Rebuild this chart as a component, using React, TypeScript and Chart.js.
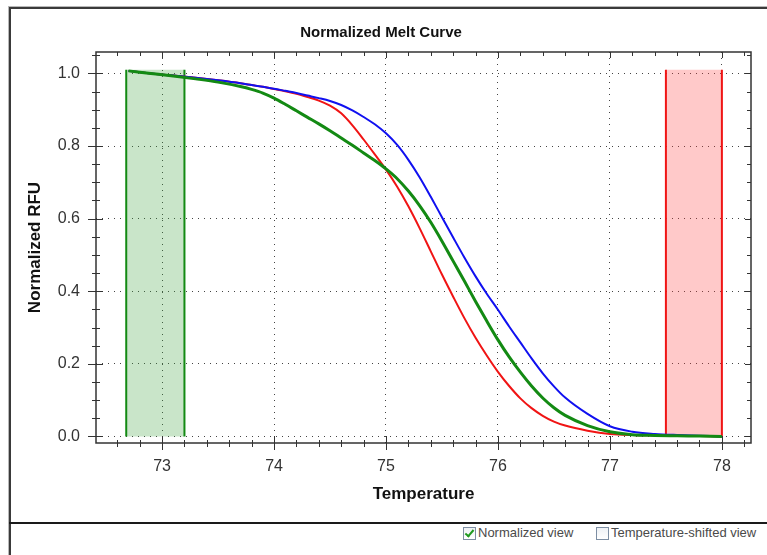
import React, { useEffect, useRef } from "react";
import { Chart, registerables } from "chart.js";

Chart.register(...registerables);

// ---- data ----
const temps = [72.7, 72.9, 73.1, 73.3, 73.5, 73.7, 73.8, 73.9, 74.0, 74.1, 74.2, 74.3, 74.4, 74.5, 74.6, 74.7, 74.8, 74.9, 75.0, 75.1, 75.2, 75.3, 75.4, 75.5, 75.6, 75.7, 75.8, 75.9, 76.0, 76.1, 76.2, 76.3, 76.4, 76.5, 76.6, 76.8, 77.0, 77.2, 77.4, 77.6, 77.8, 78.0];

const blueRFU = [1.007, 1.0, 0.994, 0.988, 0.981, 0.973, 0.968, 0.963, 0.958, 0.952, 0.946, 0.939, 0.932, 0.924, 0.913, 0.898, 0.88, 0.86, 0.835, 0.803, 0.762, 0.714, 0.66, 0.604, 0.548, 0.493, 0.441, 0.393, 0.349, 0.303, 0.259, 0.215, 0.174, 0.138, 0.107, 0.062, 0.028, 0.013, 0.007, 0.004, 0.002, 0.0];

const redRFU = [1.007, 1.0, 0.994, 0.988, 0.981, 0.973, 0.968, 0.963, 0.957, 0.951, 0.944, 0.935, 0.925, 0.911, 0.89, 0.857, 0.818, 0.777, 0.735, 0.688, 0.634, 0.574, 0.51, 0.446, 0.385, 0.326, 0.272, 0.223, 0.178, 0.139, 0.105, 0.078, 0.057, 0.041, 0.03, 0.016, 0.007, 0.004, 0.003, 0.002, 0.001, 0.0];

const greenRFU = [1.007, 1.0, 0.993, 0.985, 0.976, 0.964, 0.956, 0.946, 0.932, 0.915, 0.897, 0.879, 0.861, 0.842, 0.822, 0.802, 0.781, 0.76, 0.737, 0.71, 0.676, 0.636, 0.59, 0.538, 0.483, 0.428, 0.372, 0.318, 0.266, 0.219, 0.177, 0.139, 0.106, 0.079, 0.058, 0.03, 0.013, 0.005, 0.003, 0.002, 0.001, 0.0];

const greenBand = [72.68, 73.2];
const redBand = [77.5, 78.0];
const bandTop = 1.01;

const xRange = [72.41, 78.26];
const yRange = [-0.018, 1.059];
const xMajorStep = 1;
const xMinorStep = 0.2;
const yMajorStep = 0.2;
const yMinorStep = 0.05;

const titleText = "Normalized Melt Curve";
const xTitle = "Temperature";
const yTitle = "Normalized RFU";
const viewLabels = ["Normalized view", "Temperature-shifted view"];

const FONT = "'Liberation Sans', Arial, sans-serif";

const series = (ys: number[]) => temps.map((t, i) => ({ x: t, y: ys[i] }));

const bandFill = (b: number[]) => [
  { x: b[0], y: bandTop },
  { x: b[1], y: bandTop },
];
const bandEdges = (b: number[]) => [
  { x: b[0], y: 0 },
  { x: b[0], y: bandTop },
  { x: b[1], y: bandTop },
  { x: b[1], y: 0 },
];

const framePlugin = {
  id: "frameTicks",
  afterDraw(chart: any) {
    const { ctx, chartArea } = chart;
    const { left, right, top, bottom } = chartArea;
    const xs = chart.scales.x;
    const ys = chart.scales.y;
    ctx.save();
    ctx.strokeStyle = "#333";
    ctx.lineWidth = 1;
    const xStart = Math.ceil(xs.min / xMinorStep) * xMinorStep;
    for (let v = xStart; v <= xs.max + 1e-9; v += xMinorStep) {
      const isMajor = Math.abs(v / xMajorStep - Math.round(v / xMajorStep)) < 1e-6;
      const px = Math.round(xs.getPixelForValue(v)) + 0.5;
      ctx.beginPath();
      if (isMajor) {
        ctx.moveTo(px, bottom - 7);
        ctx.lineTo(px, bottom + 7);
        ctx.moveTo(px, top);
        ctx.lineTo(px, top + 6);
      } else {
        ctx.moveTo(px, bottom - 3);
        ctx.lineTo(px, bottom + 4);
        ctx.moveTo(px, top);
        ctx.lineTo(px, top + 4);
      }
      ctx.stroke();
    }
    const yStart = Math.ceil(ys.min / yMinorStep) * yMinorStep;
    for (let v = yStart; v <= ys.max + 1e-9; v += yMinorStep) {
      const isMajor = Math.abs(v / yMajorStep - Math.round(v / yMajorStep)) < 1e-6;
      const py = Math.round(ys.getPixelForValue(v)) + 0.5;
      ctx.beginPath();
      if (isMajor) {
        ctx.moveTo(left - 8, py);
        ctx.lineTo(left + 7, py);
        ctx.moveTo(right, py);
        ctx.lineTo(right - 6, py);
      } else {
        ctx.moveTo(left - 4, py);
        ctx.lineTo(left + 4, py);
        ctx.moveTo(right, py);
        ctx.lineTo(right - 4, py);
      }
      ctx.stroke();
    }
    ctx.lineWidth = 1.5;
    ctx.strokeStyle = "#333";
    ctx.strokeRect(left, top, right - left, bottom - top);
    ctx.restore();
  },
};

function MeltChart() {
  const ref = useRef<HTMLCanvasElement | null>(null);
  useEffect(() => {
    if (!ref.current) return;
    const chart = new Chart(ref.current, {
      type: "line",
      data: {
        datasets: [
          {
            label: "green",
            data: series(greenRFU),
            borderColor: "#138a13",
            borderWidth: 3,
            pointRadius: 0,
            cubicInterpolationMode: "monotone",
            fill: false,
            order: 0,
          },
          {
            label: "blue",
            data: series(blueRFU),
            borderColor: "#1010f0",
            borderWidth: 2,
            pointRadius: 0,
            cubicInterpolationMode: "monotone",
            fill: false,
            order: 1,
          },
          {
            label: "red",
            data: series(redRFU),
            borderColor: "#f01414",
            borderWidth: 2,
            pointRadius: 0,
            cubicInterpolationMode: "monotone",
            fill: false,
            order: 2,
          },
          {
            label: "greenBandEdges",
            data: bandEdges(greenBand),
            borderColor: "#138a13",
            borderWidth: 2,
            pointRadius: 0,
            tension: 0,
            fill: false,
            segment: {
              borderColor: (c: any) => (c.p0DataIndex === 1 ? "rgba(0,0,0,0)" : "#138a13"),
            },
            order: 3,
          },
          {
            label: "redBandEdges",
            data: bandEdges(redBand),
            borderColor: "#f01414",
            borderWidth: 2,
            pointRadius: 0,
            tension: 0,
            fill: false,
            segment: {
              borderColor: (c: any) => (c.p0DataIndex === 1 ? "rgba(0,0,0,0)" : "#f01414"),
            },
            order: 3,
          },
          {
            label: "greenBand",
            data: bandFill(greenBand),
            borderWidth: 0,
            borderColor: "rgba(0,0,0,0)",
            backgroundColor: "rgba(60,160,60,0.28)",
            pointRadius: 0,
            fill: "origin",
            order: 4,
          },
          {
            label: "redBand",
            data: bandFill(redBand),
            borderWidth: 0,
            borderColor: "rgba(0,0,0,0)",
            backgroundColor: "rgba(255,60,60,0.28)",
            pointRadius: 0,
            fill: "origin",
            order: 4,
          },
        ],
      },
      options: {
        animation: false,
        responsive: false,
        layout: { padding: { left: 0, right: 16, top: 0, bottom: 0 } },
        plugins: {
          legend: { display: false },
          tooltip: { enabled: false },
          title: {
            display: true,
            text: titleText,
            color: "#111",
            font: { family: FONT, size: 15, weight: "bold" },
            padding: { top: 14, bottom: 10 },
          },
        },
        scales: {
          x: {
            type: "linear",
            min: xRange[0],
            max: xRange[1],
            afterFit: (s: any) => {
              s.height = 78;
            },
            ticks: {
              stepSize: xMajorStep,
              includeBounds: false,
              color: "#333",
              font: { family: FONT, size: 16 },
              padding: 14,
              callback: (v: any) => String(Math.round(Number(v))),
            },
            grid: { color: "#444", lineWidth: 1, drawTicks: false },
            border: { display: false, dash: [1, 5] },
            title: {
              display: true,
              text: xTitle,
              color: "#111",
              font: { family: FONT, size: 17, weight: "bold" },
              padding: { top: 0, bottom: 16 },
            },
          },
          y: {
            type: "linear",
            min: yRange[0],
            max: yRange[1],
            afterFit: (s: any) => {
              s.width = 85;
            },
            ticks: {
              stepSize: yMajorStep,
              includeBounds: false,
              color: "#333",
              font: { family: FONT, size: 16 },
              padding: 16,
              callback: (v: any) => Number(v).toFixed(1),
            },
            grid: { color: "#444", lineWidth: 1, drawTicks: false },
            border: { display: false, dash: [1, 5] },
            title: {
              display: true,
              text: yTitle,
              color: "#111",
              font: { family: FONT, size: 17, weight: "bold" },
              padding: { top: 14, bottom: 0 },
            },
          },
        },
      },
      plugins: [framePlugin],
    } as any);
    return () => chart.destroy();
  }, []);
  return (
    <canvas
      ref={ref}
      width={756}
      height={511}
      style={{ position: "absolute", left: 11, top: 10, width: 756, height: 511 }}
    />
  );
}

function CheckBox({ left, checked }: { left: number; checked: boolean }) {
  return (
    <div
      style={{
        position: "absolute",
        left,
        top: 527,
        width: 11,
        height: 11,
        border: "1px solid #7d8ea3",
        background: "linear-gradient(#eef1f5, #ffffff)",
      }}
    >
      {checked ? (
        <div
          style={{
            position: "absolute",
            left: 3,
            top: 0,
            width: 3,
            height: 7,
            borderRight: "2px solid #1f9a1f",
            borderBottom: "2px solid #1f9a1f",
            transform: "rotate(40deg)",
          }}
        />
      ) : null}
    </div>
  );
}

export default function App() {
  return (
    <div
      style={{
        position: "fixed",
        left: 0,
        top: 0,
        width: 767,
        height: 555,
        background: "#fff",
        overflow: "hidden",
        fontFamily: FONT,
      }}
    >
      <MeltChart />
      {/* frame */}
      <div style={{ position: "absolute", left: 8, top: 6, width: 759, height: 1, background: "#b8b8b8" }} />
      <div style={{ position: "absolute", left: 9, top: 7, width: 758, height: 2, background: "#3a3a3a" }} />
      <div style={{ position: "absolute", left: 8, top: 6, width: 1, height: 549, background: "#b8b8b8" }} />
      <div style={{ position: "absolute", left: 9, top: 7, width: 2, height: 548, background: "#3a3a3a" }} />
      <div style={{ position: "absolute", left: 9, top: 522, width: 758, height: 2, background: "#1a1a1a" }} />
      {/* view options */}
      <CheckBox left={463} checked={true} />
      <div style={{ position: "absolute", left: 478, top: 525, fontSize: 13, color: "#4a4a4a", whiteSpace: "nowrap" }}>
        {viewLabels[0]}
      </div>
      <CheckBox left={596} checked={false} />
      <div style={{ position: "absolute", left: 611, top: 525, fontSize: 13, color: "#4a4a4a", whiteSpace: "nowrap" }}>
        {viewLabels[1]}
      </div>
    </div>
  );
}
